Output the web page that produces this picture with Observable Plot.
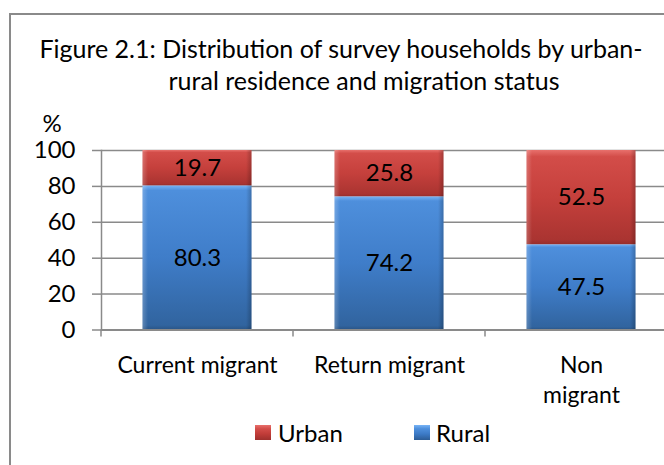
<!DOCTYPE html>
<html><head><meta charset="utf-8">
<script src="https://cdn.jsdelivr.net/npm/d3@7"></script>
<script src="https://cdn.jsdelivr.net/npm/@observablehq/plot@0.6"></script>
<style>
html,body{margin:0;padding:0;width:664px;height:465px;overflow:hidden;background:#fff;font-family:Lato,sans-serif;color:#000;}
#frame{position:absolute;left:9px;top:13px;width:720px;height:520px;border:2px solid #8a8a8a;box-sizing:border-box;}
.title{position:absolute;font-size:25px;line-height:25px;white-space:nowrap;transform:translateX(-50%);}
#chart{position:absolute;left:0;top:100px;}
.sw{position:absolute;width:16px;height:15px;}
.lt{position:absolute;font-size:24px;line-height:24px;white-space:nowrap;}
</style>
</head><body>
<div id="frame"></div>
<div class="title" id="t1" style="left:341px;top:36px;"></div>
<div class="title" id="t2" style="left:364px;top:68px;"></div>
<div id="chart"></div>
<div id="legend"></div>
<script>
const titleLines = ["Figure 2.1: Distribution of survey households by urban-", "rural residence and migration status"];
const categories = ["Current migrant", "Return migrant", "Non migrant"];
const categoryLabels = ["Current migrant", "Return migrant", "Non\nmigrant"];
const rural = [80.3, 74.2, 47.5];
const urban = [19.7, 25.8, 52.5];
const seriesNames = ["Rural", "Urban"];
const legendOrder = ["Urban", "Rural"];
const yTicks = [0, 20, 40, 60, 80, 100];
const yLabel = "%";

document.getElementById("t1").textContent = titleLines[0];
document.getElementById("t2").textContent = titleLines[1];

const data = [];
categories.forEach((c, i) => {
  data.push({cat: c, series: "Rural", value: rural[i]});
  data.push({cat: c, series: "Urban", value: urban[i]});
});

const defs = () => {
  const d = d3.create("svg:defs");
  const mk = (id, stops, horiz) => {
    const g = d.append("linearGradient").attr("id", id)
      .attr("x1", 0).attr("y1", 0).attr("x2", horiz ? 1 : 0).attr("y2", horiz ? 0 : 1);
    stops.forEach(([o, c, a]) => g.append("stop").attr("offset", o).attr("stop-color", c).attr("stop-opacity", a ?? 1));
  };
  mk("gUrban", [[0, "#e8706c"], [0.07, "#d34d49"], [0.5, "#c5403c"], [0.95, "#aa3431"], [1, "#962d2b"]]);
  mk("gRural", [[0, "#78b4f6"], [0.035, "#4e8fdc"], [0.5, "#3f7dc9"], [0.97, "#31649f"], [1, "#2a5587"]]);
  mk("gBevel", [[0, "#ffffff", 0.22], [0.05, "#ffffff", 0], [0.95, "#000000", 0], [1, "#000000", 0.22]], true);
  return d.node();
};

const boundaryTicks = (index, scales, values, dims) => {
  const g = d3.create("svg:g").attr("stroke", "#8a8a8a").attr("stroke-width", 1.5);
  const y0 = scales.y(0);
  categories.forEach(c => {
    const x = scales.x(c);
    g.append("line").attr("x1", x).attr("x2", x).attr("y1", y0).attr("y2", y0 + 7);
  });
  return g.node();
};

const labelOf = new Map(categories.map((c, i) => [c, categoryLabels[i]]));

const chart = Plot.plot({
  width: 664,
  height: 320,
  marginTop: 50,
  marginBottom: 90.5,
  marginLeft: 101,
  marginRight: 0,
  style: {fontFamily: "Lato, sans-serif", fontSize: "24px", color: "#000", background: "transparent", overflow: "visible"},
  x: {type: "band", domain: categories, range: [101, 677], padding: 0, label: null},
  y: {domain: [0, 100], label: null},
  color: {domain: seriesNames, range: ["url(#gRural)", "url(#gUrban)"]},
  marks: [
    defs,
    Plot.gridY(yTicks, {stroke: "#8a8a8a", strokeOpacity: 1, strokeWidth: 1.5}),
    Plot.axisY({ticks: yTicks, tickSize: 9, tickPadding: 17, stroke: "#8a8a8a", strokeWidth: 1.5, strokeOpacity: 1, fill: "#000", fontSize: 24, label: null}),
    Plot.frame({anchor: "left", stroke: "#8a8a8a", strokeWidth: 1.5}),
    Plot.barY(data, {x: "cat", y: "value", z: "series", fill: "series", insetLeft: 41.5, insetRight: 41.5}),
    Plot.barY(data, {x: "cat", y: "value", z: "series", fill: "url(#gBevel)", insetLeft: 41.5, insetRight: 41.5}),
    Plot.ruleY([0], {stroke: "#8a8a8a", strokeWidth: 2}),
    boundaryTicks,
    Plot.text(data, Plot.stackY({x: "cat", y: "value", z: "series", text: d => d.value.toFixed(1), fill: "#000", fontSize: 24})),
    Plot.axisX({tickSize: 0, tickPadding: 22, tickFormat: d => labelOf.get(d), fontSize: 23, lineHeight: 1.3, fill: "#000", label: null}),
    Plot.text([yLabel], {frameAnchor: "top-left", textAnchor: "start", dx: -59, dy: -36, fontSize: 24, fill: "#000"})
  ]
});
document.getElementById("chart").appendChild(chart);

const legend = document.getElementById("legend");
const swatchBg = {
  Urban: "linear-gradient(#e8706c 0%, #d34d49 25%, #c03c38 60%, #9e302d 100%)",
  Rural: "linear-gradient(#78b4f6 0%, #4e8fdc 25%, #3c7ac6 60%, #2c5c95 100%)"
};
const legendPos = {Urban: [255, 278], Rural: [414, 436]};
legendOrder.forEach(name => {
  const [sx, tx] = legendPos[name];
  const sw = document.createElement("div");
  sw.className = "sw";
  sw.style.left = sx + "px"; sw.style.top = "425px"; sw.style.background = swatchBg[name];
  legend.appendChild(sw);
  const t = document.createElement("div");
  t.className = "lt";
  t.style.left = tx + "px"; t.style.top = "421px";
  t.textContent = name;
  legend.appendChild(t);
});
</script>
</body></html>
